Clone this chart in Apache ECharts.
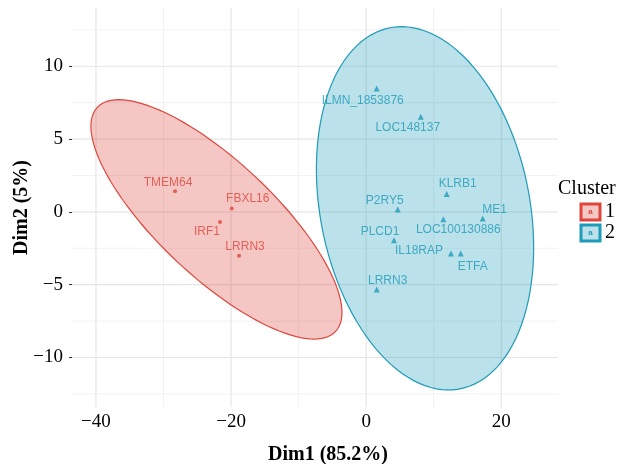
<!DOCTYPE html>
<html>
<head>
<meta charset="utf-8">
<script src="https://cdn.jsdelivr.net/npm/echarts@6/dist/echarts.min.js"></script>
<style>html,body{margin:0;padding:0;background:#fff;}#c{width:618px;height:464px;}</style>
</head>
<body>
<div id="c"></div>
<script>
// ---- data ----
const cluster1Names = ['TMEM64', 'FBXL16', 'IRF1', 'LRRN3'];
const cluster1Dim1 = [-28.30, -19.90, -21.64, -18.82];
const cluster1Dim2 = [1.42, 0.23, -0.69, -3.02];

const cluster2Names = ['ILMN_1853876', 'LOC148137', 'KLRB1', 'P2RY5', 'ME1', 'LOC100130886', 'PLCD1', 'IL18RAP', 'ETFA', 'LRRN3'];
const cluster2Dim1 = [1.56, 8.08, 11.92, 4.67, 17.25, 11.42, 4.12, 12.56, 14.00, 1.56];
const cluster2Dim2 = [8.48, 6.53, 1.22, 0.16, -0.45, -0.50, -1.95, -2.86, -2.86, -5.33];

const clusterNames = ['1', '2'];
const xTicks = [-40, -20, 0, 20];
const xMinorTicks = [-30, -10, 10];
const yTicks = [-10, -5, 0, 5, 10];
const yMinorTicks = [-12.5, -7.5, -2.5, 2.5, 7.5, 12.5];

// ---- styles (label offsets in px, kept separate from data) ----
const labelOffsets1 = [[-7, -9], [16, -10], [-13, 10], [6, -9]];
const labelOffsets2 = [[-14, 12], [-13, 11], [11, -10], [-13, -9], [12, -9], [15, 11], [-14, -9], [-32, -3], [12, 13], [11, -9]];
const RED = '#DE463C', BLUE = '#1E9BB9';
const RED_FILL = 'rgba(222,70,60,0.30)', BLUE_FILL = 'rgba(30,155,185,0.30)';

// ---- 95% normal data ellipse (as ggplot2 stat_ellipse type="norm") ----
function dataEllipse(xs, ys, level, segs) {
  const n = xs.length;
  const mx = xs.reduce((a, b) => a + b, 0) / n;
  const my = ys.reduce((a, b) => a + b, 0) / n;
  let sxx = 0, syy = 0, sxy = 0;
  for (let i = 0; i < n; i++) {
    sxx += (xs[i] - mx) * (xs[i] - mx);
    syy += (ys[i] - my) * (ys[i] - my);
    sxy += (xs[i] - mx) * (ys[i] - my);
  }
  sxx /= (n - 1); syy /= (n - 1); sxy /= (n - 1);
  const d = n - 1;
  const qf = (d / 2) * (Math.pow(1 - level, -2 / d) - 1); // F(2,d) quantile
  const r = Math.sqrt(2 * qf);
  const a = Math.sqrt(sxx), b = sxy / a, c = Math.sqrt(syy - b * b);
  const pts = [];
  for (let k = 0; k <= segs; k++) {
    const t = k * 2 * Math.PI / segs;
    pts.push([mx + r * a * Math.cos(t), my + r * (b * Math.cos(t) + c * Math.sin(t))]);
  }
  return { center: [mx, my], pts };
}

const ell1 = dataEllipse(cluster1Dim1, cluster1Dim2, 0.95, 120);
const ell2 = dataEllipse(cluster2Dim1, cluster2Dim2, 0.95, 120);

function ellipseSeries(ell, fill, stroke, z) {
  return {
    type: 'custom', silent: true, z: z,
    data: [ell.center],
    renderItem: function (params, api) {
      return {
        type: 'polygon',
        shape: { points: ell.pts.map(p => api.coord(p)) },
        style: { fill: fill, stroke: stroke, lineWidth: 1.2 }
      };
    }
  };
}

function pointSeries(name, names, xs, ys, offs, color, symbol, size) {
  return {
    name: name, type: 'scatter', symbol: symbol, symbolSize: size, z: 5,
    itemStyle: { color: color },
    data: names.map((nm, i) => ({
      value: [xs[i], ys[i]], name: nm,
      label: { offset: offs[i] }
    })),
    label: {
      show: true, position: 'inside', formatter: '{b}',
      color: color, fontFamily: 'Liberation Sans', fontSize: 12,
      align: 'center', verticalAlign: 'middle'
    },
    emphasis: { disabled: true }
  };
}

const gridSeries = {
  type: 'custom', silent: true, z: 0,
  data: [[0, 0]],
  renderItem: function (params, api) {
    const cs = params.coordSys;
    const kids = [];
    const vline = (v, col, w) => {
      const p = api.coord([v, 0]);
      kids.push({ type: 'line', shape: { x1: p[0], y1: cs.y, x2: p[0], y2: cs.y + cs.height }, style: { stroke: col, lineWidth: w } });
    };
    const hline = (v, col, w) => {
      const p = api.coord([0, v]);
      kids.push({ type: 'line', shape: { x1: cs.x, y1: p[1], x2: cs.x + cs.width, y2: p[1] }, style: { stroke: col, lineWidth: w } });
    };
    xMinorTicks.forEach(v => vline(v, '#F2F2F2', 1));
    yMinorTicks.forEach(v => hline(v, '#F2F2F2', 1));
    xTicks.forEach(v => vline(v, '#E6E6E6', 1.2));
    yTicks.forEach(v => hline(v, '#E6E6E6', 1.2));
    return { type: 'group', children: kids };
  }
};

const fmt = v => (v < 0 ? '\u2212' + Math.abs(v) : String(v));

const chart = echarts.init(document.getElementById('c'), null, { renderer: 'canvas' });
chart.setOption({
  animation: false,
  backgroundColor: '#ffffff',
  title: {
    text: 'Cluster', left: 553, top: 174,
    textStyle: { fontFamily: 'Liberation Serif', fontSize: 20, fontWeight: 'normal', color: '#000' }
  },
  legend: {
    data: clusterNames, orient: 'vertical', left: 571, top: 197,
    itemWidth: 0, itemHeight: 0, itemGap: 1, selectedMode: false,
    formatter: name => '{k' + name + '|a}{l|' + name + '}',
    textStyle: {
      rich: {
        k1: { width: 19, height: 16, backgroundColor: RED_FILL, borderColor: RED, borderWidth: 1.5, align: 'center', color: RED, fontSize: 8, fontWeight: 'bold', fontFamily: 'Liberation Sans' },
        k2: { width: 19, height: 16, backgroundColor: BLUE_FILL, borderColor: BLUE, borderWidth: 1.5, align: 'center', color: BLUE, fontSize: 8, fontWeight: 'bold', fontFamily: 'Liberation Sans' },
        l: { fontFamily: 'Liberation Serif', fontSize: 20, color: '#000', padding: [0, 0, 0, 5] }
      }
    }
  },
  grid: { left: 72, right: 60, top: 8, bottom: 57, containLabel: false, outerBoundsMode: 'none' },
  xAxis: {
    type: 'value', min: -43.55, max: 28.4,
    name: 'Dim1 (85.2%)', nameLocation: 'middle', nameGap: 38, nameMoveOverlap: false,
    nameTextStyle: { fontFamily: 'Liberation Serif', fontSize: 20, fontWeight: 'bold', color: '#000', padding: [0, 0, 0, 26] },
    axisLine: { show: false, onZero: false },
    axisTick: { show: false, customValues: xTicks },
    splitLine: { show: false },
    axisLabel: { customValues: xTicks, formatter: fmt, fontFamily: 'Liberation Serif', fontSize: 19, color: '#000', margin: 6 }
  },
  yAxis: {
    type: 'value', min: -13.4, max: 14.0,
    name: 'Dim2 (5%)', nameLocation: 'middle', nameGap: 40, nameMoveOverlap: false,
    nameTextStyle: { fontFamily: 'Liberation Serif', fontSize: 20, fontWeight: 'bold', color: '#000' },
    axisLine: { show: false, onZero: false },
    axisTick: { show: true, customValues: yTicks, length: 3, lineStyle: { color: '#333', width: 1 } },
    splitLine: { show: false },
    axisLabel: { customValues: yTicks, formatter: fmt, fontFamily: 'Liberation Serif', fontSize: 19, color: '#000', margin: 9 }
  },
  series: [
    gridSeries,
    ellipseSeries(ell1, RED_FILL, RED, 2),
    ellipseSeries(ell2, BLUE_FILL, BLUE, 3),
    pointSeries('1', cluster1Names, cluster1Dim1, cluster1Dim2, labelOffsets1, RED, 'circle', 4),
    pointSeries('2', cluster2Names, cluster2Dim1, cluster2Dim2, labelOffsets2, BLUE, 'triangle', 6)
  ]
});
</script>
</body>
</html>
